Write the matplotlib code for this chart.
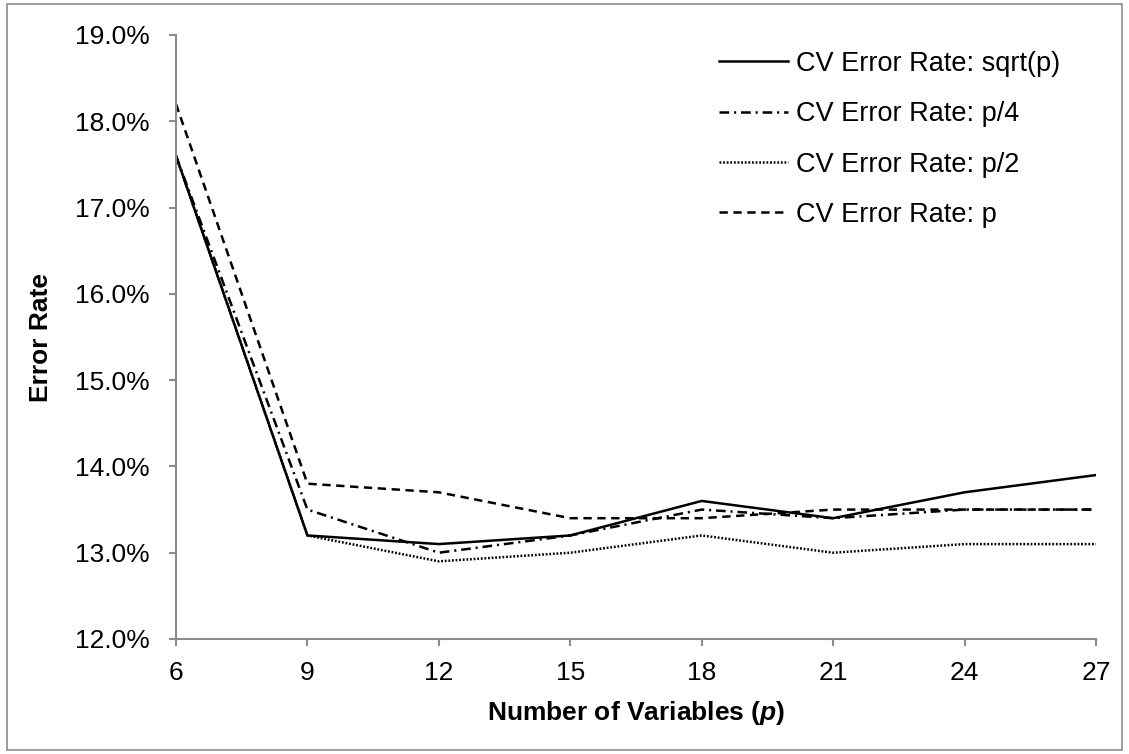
import matplotlib
matplotlib.use("Agg")
import matplotlib.pyplot as plt
from matplotlib.ticker import FuncFormatter, FixedLocator
from matplotlib.patches import Rectangle

plt.rcParams['font.family'] = ['Liberation Sans', 'DejaVu Sans']
plt.rcParams['mathtext.fontset'] = 'custom'
plt.rcParams['mathtext.rm'] = 'Liberation Sans'
plt.rcParams['mathtext.it'] = 'Liberation Sans:italic'
plt.rcParams['mathtext.bf'] = 'Liberation Sans:bold'
plt.rcParams['mathtext.bfit'] = 'Liberation Sans:italic:bold'
plt.rcParams['lines.scale_dashes'] = False

# ---- data ----
num_vars = [6, 9, 12, 15, 18, 21, 24, 27]
err_sqrt_p = [17.6, 13.2, 13.1, 13.2, 13.6, 13.4, 13.7, 13.9]
err_p4 = [17.6, 13.5, 13.0, 13.2, 13.5, 13.4, 13.5, 13.5]
err_p2 = [17.6, 13.2, 12.9, 13.0, 13.2, 13.0, 13.1, 13.1]
err_p = [18.2, 13.8, 13.7, 13.4, 13.4, 13.5, 13.5, 13.5]
series_labels = ["CV Error Rate: sqrt(p)", "CV Error Rate: p/4",
                 "CV Error Rate: p/2", "CV Error Rate: p"]
y_ticks = [12.0, 13.0, 14.0, 15.0, 16.0, 17.0, 18.0, 19.0]

W, H = 1129, 754
fig = plt.figure(figsize=(W / 100, H / 100), dpi=100)
ax = fig.add_axes([176 / W, 1 - 639 / H, (1096 - 176) / W, (639 - 35) / H])

fs = 19
lw = 1.8
ax.plot(num_vars, err_sqrt_p, color='black', lw=lw, linestyle='-', label=series_labels[0])
ax.plot(num_vars, err_p4, color='black', lw=lw, linestyle=(0, (7, 3.5, 1.5, 3.5)), label=series_labels[1])
ax.plot(num_vars, err_p2, color='black', lw=lw, linestyle=(0, (1.3, 1.3)), label=series_labels[2])
ax.plot(num_vars, err_p, color='black', lw=lw, linestyle=(0, (6, 4)), label=series_labels[3])

ax.set_xlim(num_vars[0], num_vars[-1])
ax.set_ylim(y_ticks[0], y_ticks[-1])
ax.xaxis.set_major_locator(FixedLocator(num_vars))
ax.yaxis.set_major_locator(FixedLocator(y_ticks))
ax.yaxis.set_major_formatter(FuncFormatter(lambda v, pos: f"{v:.1f}%"))

gray = '#8c8c8c'
for s in ['top', 'right']:
    ax.spines[s].set_visible(False)
for s in ['left', 'bottom']:
    ax.spines[s].set_color(gray)
    ax.spines[s].set_linewidth(1.5)
ax.tick_params(axis='both', direction='out', length=5, width=1.5, color=gray,
               labelsize=fs, labelcolor='black')
ax.tick_params(axis='y', pad=14)
ax.tick_params(axis='x', pad=11)

ax.set_ylabel("Error Rate", fontsize=fs, fontweight='bold')
ax.yaxis.set_label_coords((53 - 176) / (1096 - 176), 0.5)
ax.set_xlabel(r"Number of Variables ($\mathbfit{p}$)", fontsize=fs, fontweight='bold')
ax.xaxis.set_label_coords(0.5, -(713 - 639) / (639 - 35))
ax.xaxis.label.set_verticalalignment('center')

leg = ax.legend(loc='upper left', bbox_to_anchor=((708 - 176) / 920, 1 - (40 - 35) / 604),
                frameon=False, fontsize=19.5, handlelength=2.55, handletextpad=0.3,
                labelspacing=0.9, borderaxespad=0)

fig.patches.append(Rectangle((7 / W, 4 / H), (W - 14) / W, (H - 8) / H, transform=fig.transFigure,
                             fill=False, edgecolor=gray, linewidth=1.2))

fig.savefig("out.png", dpi=100, facecolor='white')
